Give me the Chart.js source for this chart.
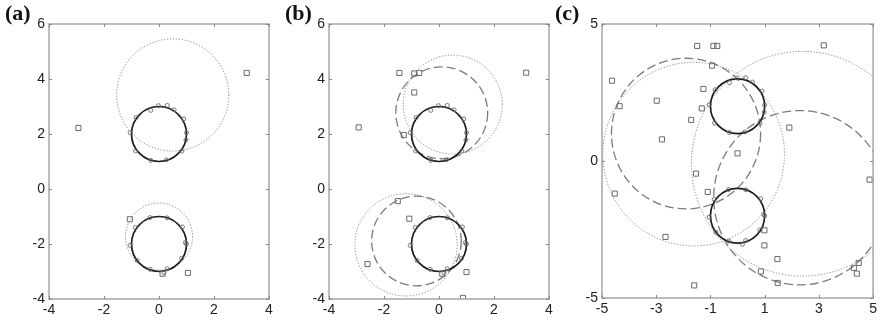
<!DOCTYPE html>
<html>
<head>
<meta charset="utf-8">
<script src="https://cdn.jsdelivr.net/npm/chart.js@4.4.1/dist/chart.umd.min.js"></script>
<style>
  body { margin: 0; background: #fff; width: 880px; height: 325px; position: relative; overflow: hidden; }
  canvas { position: absolute; top: 0; }
</style>
</head>
<body>
<canvas id="panelA" width="285" height="325" style="left:0px"></canvas>
<canvas id="panelB" width="285" height="325" style="left:280px"></canvas>
<canvas id="panelC" width="330" height="325" style="left:550px"></canvas>
<script>
// samples lying on the two true circles (shared by all panels)
const inliersUpper = [
    [1.0, 2.05], [0.9, 2.55], [0.55, 2.88], [0.3, 3.04], [-0.02, 3.03], [-0.3, 2.86],
    [-0.83, 2.6], [-1.05, 2.05], [-0.85, 1.38], [-0.3, 1.04], [0.27, 1.06], [0.83, 1.38], [0.98, 1.78]
];
const inliersLower = [
    [-1.05, -2.05], [-0.86, -1.4], [-0.33, -1.04], [0.3, -1.05], [0.85, -1.38], [1.0, -2.0],
    [0.82, -2.52], [0.3, -2.9], [0.18, -3.04], [-0.32, -2.92], [-0.8, -2.6], [0.96, -1.95]
];

// gross outliers
const outliersA = [[-2.93, 2.22], [3.19, 4.22], [-1.06, -1.1], [0.13, -3.08], [1.05, -3.05]];
const outliersB = [
    [-2.92, 2.24], [3.17, 4.23], [-1.44, 4.22], [-0.9, 4.2], [-0.72, 4.22], [-0.9, 3.51], [-1.28, 1.96],
    [-1.5, -0.44], [-1.08, -1.08], [-2.6, -2.73], [0.12, -3.08], [1.0, -3.02], [0.87, -3.96]
];
const outliersC = [
    [-1.49, 4.2], [-0.89, 4.2], [-0.75, 4.2], [-0.94, 3.48], [-4.63, 2.93], [-4.35, 2.0], [-2.98, 2.2],
    [-1.26, 2.63], [-1.32, 1.92], [-1.71, 1.5], [-2.79, 0.79], [3.18, 4.22], [1.91, 1.22], [0.0, 0.28],
    [-1.53, -0.46], [-4.53, -1.19], [-1.1, -1.13], [-2.66, -2.77], [-1.6, -4.54], [4.87, -0.68],
    [0.99, -2.53], [0.99, -3.08], [1.47, -3.58], [0.86, -4.03], [1.48, -4.45], [4.29, -3.9],
    [4.47, -3.72], [4.4, -4.11]
];

// fitted circles: [centre x, centre y, radius]
const trueCircles = [[0, 2, 1], [0, -2, 1]];
const dottedA = [[0.5, 3.42, 2.04], [0, -1.73, 1.22]];
const dottedB = [[0.5, 3.07, 1.8], [-1.2, -2.03, 1.86]];
const dashedB = [[0.1, 2.77, 1.67], [-0.82, -1.89, 1.63]];
const dottedC = [[-1.62, 0.25, 3.35], [2.4, -0.1, 4.1]];
const dashedC = [[-1.9, 1.0, 2.75], [2.3, -1.34, 3.18]];

// tick labels
const xTicksAB = [-4, -2, 0, 2, 4];
const yTicksAB = [-4, -2, 0, 2, 4, 6];
const xTicksC = [-5, -3, -1, 1, 3, 5];
const yTicksC = [-5, 0, 5];

const toXY = pts => pts.map(([x, y]) => ({ x, y }));

const circleOverlay = {
    id: 'circleOverlay',
    beforeDatasetsDraw(chart, args, options) {
        const { ctx, chartArea: { left, top, right, bottom }, scales: { x, y } } = chart;
        ctx.save();
        ctx.beginPath();
        ctx.rect(left, top, right - left, bottom - top);
        ctx.clip();
        options.rings.forEach(ring => {
            ctx.strokeStyle = ring.color;
            ctx.lineWidth = ring.width;
            ctx.setLineDash(ring.dash);
            ring.circles.forEach(([cx, cy, r]) => {
                const px = x.getPixelForValue(cx);
                const py = y.getPixelForValue(cy);
                const rx = Math.abs(x.getPixelForValue(cx + r) - px);
                const ry = Math.abs(y.getPixelForValue(cy + r) - py);
                ctx.beginPath();
                ctx.ellipse(px, py, rx, ry, 0, 0, Math.PI * 2);
                ctx.stroke();
            });
        });
        ctx.restore();
    }
};

// box round the plot with small ticks pointing inwards
const frame = {
    id: 'frame',
    afterDraw(chart) {
        const { ctx, chartArea: { left, top, right, bottom }, scales: { x, y } } = chart;
        ctx.save();
        ctx.strokeStyle = '#a6a6a6';
        ctx.lineWidth = 1.5;
        ctx.strokeRect(left, top, right - left, bottom - top);
        ctx.lineWidth = 1;
        ctx.strokeStyle = '#888';
        ctx.beginPath();
        x.ticks.forEach(t => {
            const px = Math.round(x.getPixelForValue(t.value)) + 0.5;
            ctx.moveTo(px, bottom); ctx.lineTo(px, bottom - 3);
            ctx.moveTo(px, top); ctx.lineTo(px, top + 3);
        });
        y.ticks.forEach(t => {
            const py = Math.round(y.getPixelForValue(t.value)) + 0.5;
            ctx.moveTo(left, py); ctx.lineTo(left + 3, py);
            ctx.moveTo(right, py); ctx.lineTo(right - 3, py);
        });
        ctx.stroke();
        ctx.restore();
    }
};

const panelLabel = {
    id: 'panelLabel',
    afterDraw(chart, args, options) {
        const { ctx } = chart;
        ctx.save();
        ctx.font = 'bold 22px "Liberation Serif"';
        ctx.fillStyle = '#111';
        ctx.textBaseline = 'alphabetic';
        ctx.fillText(options.text, 5, 20);
        ctx.restore();
    }
};

function makePanel(id, p) {
    const tickFont = { family: '"Liberation Sans", Arial, sans-serif', size: 14 };
    return new Chart(document.getElementById(id), {
        type: 'scatter',
        data: {
            datasets: [{
                data: toXY(p.inliers),
                pointStyle: 'circle',
                pointRadius: 2,
                borderWidth: 0.9,
                borderColor: '#6a6a6a',
                backgroundColor: 'rgba(0,0,0,0)'
            }, {
                data: toXY(p.outliers),
                pointStyle: 'rect',
                pointRadius: 3.6,
                borderWidth: 1,
                borderColor: '#6a6a6a',
                backgroundColor: 'rgba(0,0,0,0)'
            }]
        },
        options: {
            responsive: false,
            animation: false,
            events: [],
            layout: { padding: { left: 0, top: 24, right: p.padRight, bottom: 0 } },
            plugins: {
                legend: { display: false },
                tooltip: { enabled: false },
                circleOverlay: { rings: p.rings },
                panelLabel: { text: p.label }
            },
            scales: {
                x: {
                    type: 'linear', min: p.xTicks[0], max: p.xTicks[p.xTicks.length - 1],
                    grid: { display: false, drawTicks: false },
                    border: { display: false },
                    ticks: { font: tickFont, color: '#222', padding: 3, maxRotation: 0 },
                    afterBuildTicks: s => { s.ticks = p.xTicks.map(v => ({ value: v })); },
                    afterFit: s => { s.height = p.xAxisHeight; }
                },
                y: {
                    type: 'linear', min: p.yTicks[0], max: p.yTicks[p.yTicks.length - 1],
                    grid: { display: false, drawTicks: false },
                    border: { display: false },
                    ticks: { font: tickFont, color: '#222', padding: 4 },
                    afterBuildTicks: s => { s.ticks = p.yTicks.map(v => ({ value: v })); },
                    afterFit: s => { s.width = p.yAxisWidth; }
                }
            }
        },
        plugins: [circleOverlay, frame, panelLabel]
    });
}

const solidRing = circles => ({ circles, color: '#1c1c1c', width: 1.7, dash: [] });
const dottedRing = circles => ({ circles, color: '#8a8a8a', width: 1, dash: [1.3, 1.7] });
const dashedRing = circles => ({ circles, color: '#7c7c7c', width: 1.3, dash: [9, 4] });

makePanel('panelA', {
    label: '(a)', inliers: inliersUpper.concat(inliersLower), outliers: outliersA,
    rings: [dottedRing(dottedA), solidRing(trueCircles)],
    xTicks: xTicksAB, yTicks: yTicksAB, yAxisWidth: 49, xAxisHeight: 26, padRight: 16
});
makePanel('panelB', {
    label: '(b)', inliers: inliersUpper.concat(inliersLower), outliers: outliersB,
    rings: [dottedRing(dottedB), dashedRing(dashedB), solidRing(trueCircles)],
    xTicks: xTicksAB, yTicks: yTicksAB, yAxisWidth: 49, xAxisHeight: 26, padRight: 16
});
makePanel('panelC', {
    label: '(c)', inliers: inliersUpper.concat(inliersLower), outliers: outliersC,
    rings: [dottedRing(dottedC), dashedRing(dashedC), solidRing(trueCircles)],
    xTicks: xTicksC, yTicks: yTicksC, yAxisWidth: 52, xAxisHeight: 27, padRight: 6
});
</script>
</body>
</html>
